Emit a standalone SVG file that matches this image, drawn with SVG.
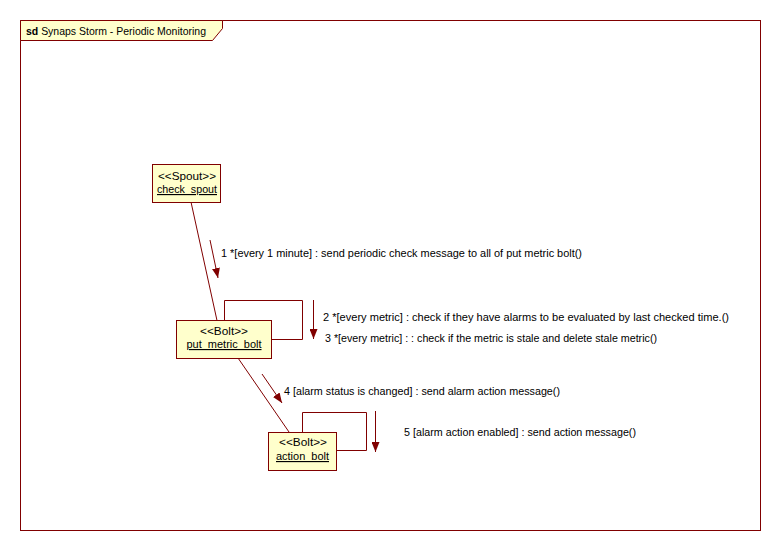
<svg xmlns="http://www.w3.org/2000/svg" width="780" height="551" viewBox="0 0 780 551">
<style>
text{font-family:"Liberation Sans","DejaVu Sans",sans-serif;font-size:11.5px;fill:#000}
.ln{stroke:#800000;stroke-width:1;fill:none}
.box{fill:#ffffcc;stroke:#800000;stroke-width:1}
.u{text-decoration:underline}
.c{text-anchor:middle}
</style>
<defs>
<marker id="ah" viewBox="0 0 10 8" refX="10" refY="4" markerWidth="10" markerHeight="8" markerUnits="userSpaceOnUse" orient="auto">
<path d="M0,0 L10,4 L0,8 Z" fill="#800000"/>
</marker>
</defs>
<rect x="0" y="0" width="780" height="551" fill="#fff"/>
<g id="frame">
<rect x="20.5" y="20.5" width="740" height="510" class="ln"/>
<path d="M20.5,20.5 H222.5 V28.5 L212.5,40.5 H20.5 Z" class="box"/>
<text x="26" y="35" textLength="180" lengthAdjust="spacingAndGlyphs"><tspan font-weight="bold">sd</tspan> Synaps Storm - Periodic Monitoring</text>
</g>
<g id="connectors">
<line x1="191" y1="202" x2="217" y2="320.5" class="ln"/>
<line x1="238" y1="358" x2="289" y2="432" class="ln"/>
<path d="M224.5,320.5 V300.5 H302.5 V339.5 H272" class="ln"/>
<path d="M302.5,432 V412.5 H366.5 V450.5 H337" class="ln"/>
<line x1="210" y1="240" x2="218" y2="278" class="ln" marker-end="url(#ah)"/>
<line x1="313.5" y1="300" x2="313.5" y2="339" class="ln" marker-end="url(#ah)"/>
<line x1="262" y1="374" x2="282" y2="403" class="ln" marker-end="url(#ah)"/>
<line x1="375.5" y1="411" x2="375.5" y2="452" class="ln" marker-end="url(#ah)"/>
<text x="221" y="257" textLength="361" lengthAdjust="spacingAndGlyphs">1 *[every 1 minute] : send periodic check message to all of put metric bolt()</text>
<text x="323" y="321" textLength="406" lengthAdjust="spacingAndGlyphs">2 *[every metric] : check if they have alarms to be evaluated by last checked time.()</text>
<text x="325" y="342" textLength="332" lengthAdjust="spacingAndGlyphs">3 *[every metric] : : check if the metric is stale and delete stale metric()</text>
<text x="284" y="395" textLength="276" lengthAdjust="spacingAndGlyphs">4 [alarm status is changed] : send alarm action message()</text>
<text x="404" y="436" textLength="232" lengthAdjust="spacingAndGlyphs">5 [alarm action enabled] : send action message()</text>
</g>
<g id="check_spout">
<rect x="152.5" y="164.5" width="68" height="38" class="box"/>
<text x="187" y="180" class="c" textLength="58" lengthAdjust="spacingAndGlyphs">&lt;&lt;Spout&gt;&gt;</text>
<text x="187" y="193" class="c u" textLength="60" lengthAdjust="spacingAndGlyphs">check_spout</text>
</g>
<g id="put_metric_bolt">
<rect x="176.5" y="320.5" width="95" height="38" class="box"/>
<text x="224" y="335" class="c" textLength="48" lengthAdjust="spacingAndGlyphs">&lt;&lt;Bolt&gt;&gt;</text>
<text x="224" y="348" class="c u" textLength="75" lengthAdjust="spacingAndGlyphs">put_metric_bolt</text>
</g>
<g id="action_bolt">
<rect x="268.5" y="432.5" width="68" height="38" class="box"/>
<text x="303" y="446" class="c" textLength="48" lengthAdjust="spacingAndGlyphs">&lt;&lt;Bolt&gt;&gt;</text>
<text x="302.5" y="460" class="c u" textLength="53" lengthAdjust="spacingAndGlyphs">action_bolt</text>
</g>
</svg>
